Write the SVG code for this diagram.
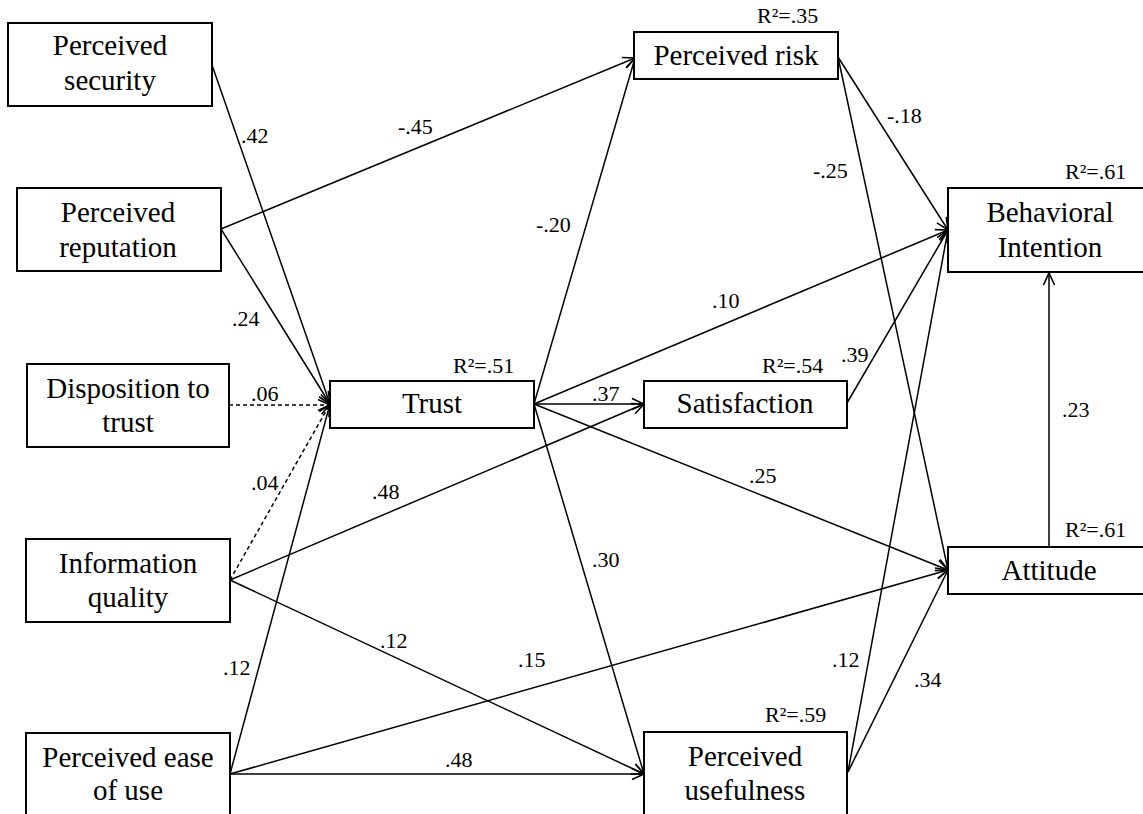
<svg xmlns="http://www.w3.org/2000/svg" width="1143" height="814" viewBox="0 0 1143 814">
<defs>
<style>
.box{fill:#fff;stroke:#000;stroke-width:2}
.t{font-size:29px;fill:#000;text-anchor:middle}
.l{font-size:22px;fill:#000}
.c{fill:none;stroke:#000;stroke-width:1.5;marker-end:url(#ah)}
.d{stroke-dasharray:4 3}
</style>
<marker id="ah" markerUnits="userSpaceOnUse" viewBox="-14 -8 16 16" markerWidth="16" markerHeight="16" refX="0" refY="0" orient="auto">
<path d="M-12,-5.5 L0,0 L-12,5.5" fill="none" stroke="#000" stroke-width="1.6"/>
</marker>
</defs>
<rect width="1143" height="814" fill="#fff"/>
<g id="connectors">
<line class="c" x1="212" y1="65" x2="330" y2="404"/>
<line class="c" x1="221" y1="229" x2="330" y2="404"/>
<line class="c" x1="221" y1="229" x2="635" y2="58"/>
<line class="c d" x1="229" y1="405" x2="330" y2="405"/>
<line class="c d" x1="230" y1="580" x2="330" y2="404"/>
<line class="c" x1="230" y1="580" x2="644" y2="404"/>
<line class="c" x1="230" y1="580" x2="644" y2="774"/>
<line class="c" x1="230" y1="774" x2="330" y2="404"/>
<line class="c" x1="230" y1="774" x2="948" y2="570"/>
<line class="c" x1="230" y1="774" x2="644" y2="774"/>
<line class="c" x1="534" y1="404" x2="635" y2="58"/>
<line class="c" x1="534" y1="404" x2="948" y2="230"/>
<line class="c" x1="534" y1="404" x2="644" y2="404"/>
<line class="c" x1="534" y1="404" x2="948" y2="570"/>
<line class="c" x1="534" y1="404" x2="644" y2="774"/>
<line class="c" x1="838" y1="57" x2="948" y2="230"/>
<line class="c" x1="838" y1="57" x2="948" y2="570"/>
<line class="c" x1="847" y1="403" x2="948" y2="230"/>
<line class="c" x1="848" y1="772" x2="948" y2="230"/>
<line class="c" x1="848" y1="772" x2="948" y2="570"/>
<line class="c" x1="1049" y1="547" x2="1049" y2="273"/>
</g>
<g font-family="'Liberation Serif', 'DejaVu Serif', serif">
<g id="labels">
<text class="l" x="241" y="143">.42</text>
<text class="l" x="398" y="134">-.45</text>
<text class="l" x="232" y="326">.24</text>
<text class="l" x="251" y="401">.06</text>
<text class="l" x="251" y="490">.04</text>
<text class="l" x="372" y="499">.48</text>
<text class="l" x="380" y="648">.12</text>
<text class="l" x="223" y="675">.12</text>
<text class="l" x="518" y="667">.15</text>
<text class="l" x="445" y="767">.48</text>
<text class="l" x="536" y="232">-.20</text>
<text class="l" x="712" y="308">.10</text>
<text class="l" x="592" y="401">.37</text>
<text class="l" x="749" y="483">.25</text>
<text class="l" x="592" y="567">.30</text>
<text class="l" x="887" y="123">-.18</text>
<text class="l" x="813" y="178">-.25</text>
<text class="l" x="841" y="362">.39</text>
<text class="l" x="1062" y="417">.23</text>
<text class="l" x="832" y="667">.12</text>
<text class="l" x="914" y="687">.34</text>
</g>
<g id="perceived-security"><rect class="box" x="8" y="23" width="204" height="83"/><text class="t" x="110" y="55">Perceived</text><text class="t" x="110" y="90">security</text></g>
<g id="perceived-reputation"><rect class="box" x="17" y="188" width="204" height="83"/><text class="t" x="118" y="222">Perceived</text><text class="t" x="118" y="257">reputation</text></g>
<g id="disposition-to-trust"><rect class="box" x="27" y="364" width="202" height="83"/><text class="t" x="128" y="398">Disposition to</text><text class="t" x="128" y="432">trust</text></g>
<g id="information-quality"><rect class="box" x="26" y="539" width="204" height="83"/><text class="t" x="128" y="573">Information</text><text class="t" x="128" y="607">quality</text></g>
<g id="perceived-ease-of-use"><rect class="box" x="26" y="733" width="204" height="90"/><text class="t" x="128" y="767">Perceived ease</text><text class="t" x="128" y="800">of use</text></g>
<g id="trust"><rect class="box" x="330" y="381" width="204" height="47"/><text class="t" x="432" y="413">Trust</text><text class="l" x="453" y="373">R²=.51</text></g>
<g id="perceived-risk"><rect class="box" x="634" y="32" width="204" height="47"/><text class="t" x="736" y="65">Perceived risk</text><text class="l" x="757" y="23">R²=.35</text></g>
<g id="satisfaction"><rect class="box" x="644" y="381" width="203" height="47"/><text class="t" x="745" y="413">Satisfaction</text><text class="l" x="762" y="373">R²=.54</text></g>
<g id="behavioral-intention"><rect class="box" x="948" y="188" width="204" height="84"/><text class="t" x="1050" y="222">Behavioral</text><text class="t" x="1050" y="257">Intention</text><text class="l" x="1065" y="179">R²=.61</text></g>
<g id="attitude"><rect class="box" x="948" y="547" width="204" height="47"/><text class="t" x="1049" y="580">Attitude</text><text class="l" x="1065" y="537">R²=.61</text></g>
<g id="perceived-usefulness"><rect class="box" x="644" y="732" width="203" height="90"/><text class="t" x="745" y="766">Perceived</text><text class="t" x="745" y="800">usefulness</text><text class="l" x="765" y="722">R²=.59</text></g>
</g>
</svg>
